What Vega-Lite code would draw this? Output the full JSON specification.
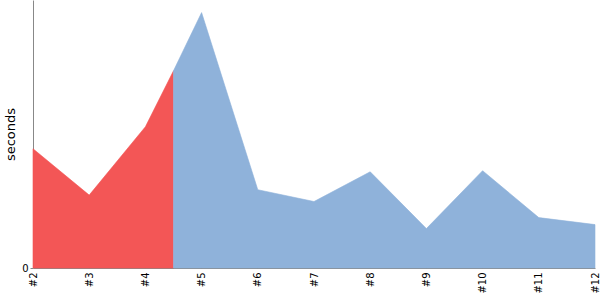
{
  "$schema": "https://vega.github.io/schema/vega-lite/v6.json",
  "autosize": {"type": "none"},
  "width": 562,
  "height": 268,
  "padding": {"left": 33, "top": 0, "right": 5, "bottom": 32},
  "background": "white",
  "config": {"view": {"stroke": null}, "font": "DejaVu Sans"},
  "data": {
    "values": [
      {"run": 2, "seconds": 44.5, "phase": "a"},
      {"run": 3, "seconds": 27.2, "phase": "a"},
      {"run": 4, "seconds": 52.7, "phase": "a"},
      {"run": 4.5, "seconds": 73.6, "phase": "a"},
      {"run": 4.5, "seconds": 73.6, "phase": "b"},
      {"run": 5, "seconds": 95.3, "phase": "b"},
      {"run": 6, "seconds": 29.2, "phase": "b"},
      {"run": 7, "seconds": 24.8, "phase": "b"},
      {"run": 8, "seconds": 35.9, "phase": "b"},
      {"run": 9, "seconds": 14.7, "phase": "b"},
      {"run": 10, "seconds": 36.3, "phase": "b"},
      {"run": 11, "seconds": 18.8, "phase": "b"},
      {"run": 12, "seconds": 16.2, "phase": "b"}
    ]
  },
  "mark": {"type": "area", "opacity": 1, "strokeWidth": 0.6},
  "encoding": {
    "x": {
      "field": "run",
      "type": "quantitative",
      "scale": {"domain": [2, 12], "nice": false, "zero": false},
      "axis": {
        "values": [2, 3, 4, 5, 6, 7, 8, 9, 10, 11, 12],
        "labelExpr": "'#' + datum.value",
        "labelAngle": -90,
        "ticks": false,
        "grid": false,
        "title": null,
        "labelPadding": 4,
        "labelFontSize": 10,
        "labelColor": "#000",
        "domainColor": "#888",
        "labelFlush": false,
        "labelOverlap": false
      }
    },
    "y": {
      "field": "seconds",
      "type": "quantitative",
      "stack": null,
      "scale": {"domain": [0, 100], "nice": false},
      "axis": {
        "values": [0],
        "grid": false,
        "title": "seconds",
        "titleFontSize": 13,
        "titleFontWeight": "normal",
        "titleColor": "#000",
        "titlePadding": 4,
        "labelFontSize": 10,
        "labelColor": "#000",
        "tickSize": 3,
        "tickColor": "#888",
        "domainColor": "#888"
      }
    },
    "color": {
      "field": "phase",
      "type": "nominal",
      "scale": {"domain": ["a", "b"], "range": ["#f35656", "#8fb2da"]},
      "legend": null
    },
    "stroke": {
      "field": "phase",
      "type": "nominal",
      "scale": {"domain": ["a", "b"], "range": ["#f35656", "#8fb2da"]},
      "legend": null
    }
  }
}
